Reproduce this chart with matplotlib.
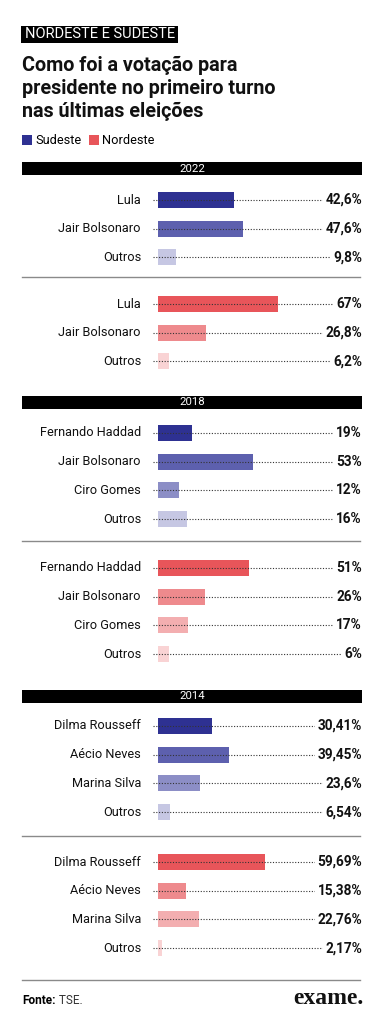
import matplotlib
matplotlib.use("Agg")
import matplotlib.pyplot as plt
from matplotlib.patches import Rectangle

# ---------------- data ----------------
years = ["2022", "2018", "2014"]

cand_2022 = ["Lula", "Jair Bolsonaro", "Outros"]
sudeste_2022 = [42.6, 47.6, 9.8]
nordeste_2022 = [67, 26.8, 6.2]

cand_2018 = ["Fernando Haddad", "Jair Bolsonaro", "Ciro Gomes", "Outros"]
sudeste_2018 = [19, 53, 12, 16]
nordeste_2018 = [51, 26, 17, 6]

cand_2014 = ["Dilma Rousseff", "Aécio Neves", "Marina Silva", "Outros"]
sudeste_2014 = [30.41, 39.45, 23.6, 6.54]
nordeste_2014 = [59.69, 15.38, 22.76, 2.17]

regions = ["Sudeste", "Nordeste"]

# ---------------- style ----------------
W, H = 385, 1023
FONT = ["Roboto", "DejaVu Sans"]
plt.rcParams["font.family"] = FONT
BLUES = ["#2E3192", "#5D60AE", "#8C8EC6", "#C6C7E3"]
REDS = ["#E8555A", "#EE8A8D", "#F3AEB0", "#F9D3D4"]
SC = 1.79          # pixels per percentage point
X0 = 158           # pixel x of 0 %
XL, XR = 153, 362  # dotted line span / value right edge
STEP = 28.7

fig = plt.figure(figsize=(W / 100, H / 100), dpi=100)
bg = fig.add_axes([0, 0, 1, 1])
bg.set_xlim(0, W)
bg.set_ylim(H, 0)
bg.axis("off")


def fmt(v):
    return f"{v:g}".replace(".", ",") + "%"


def shades(base, n):
    return [base[i] for i in ([0, 1, 3] if n == 3 else range(n))]


def panel(y_first, names, values, base):
    n = len(names)
    top = y_first - STEP / 2
    ax = fig.add_axes([XL / W, 1 - (top + n * STEP) / H, (XR - XL) / W, n * STEP / H])
    xmin, xmax = (XL - X0) / SC, (XR - X0) / SC
    ax.set_xlim(xmin, xmax)
    ax.set_ylim(n - 0.5, -0.5)
    ax.axis("off")
    ys = list(range(n))
    ax.barh(ys, values, height=16 / STEP, color=shades(base, n), zorder=2)
    ax.hlines(ys, xmin, xmax - 1, color="#333333", lw=0.8,
              linestyles=(0, (1, 1.5)), zorder=3)
    for i, (nm, v) in enumerate(zip(names, values)):
        ax.text(xmax, i, fmt(v), ha="right", va="center", fontsize=9.8,
                fontweight="bold", color="#111111", zorder=5,
                bbox=dict(fc="white", ec="none", pad=1.6))
        ax.text((141 - X0) / SC, i, nm, ha="right", va="center",
                fontsize=9.2, color="#111111", clip_on=False)


def header(y, text):
    bg.add_patch(Rectangle((22, y - 6.5), 340, 13, color="black", lw=0))
    bg.text(192, y + 0.3, text, ha="center", va="center", color="white",
            fontsize=8.2)


def sep(y):
    bg.plot([22, 360], [y, y], color="#8a8a8a", lw=1)


# tag
bg.add_patch(Rectangle((21, 26), 157, 16.5, color="black", lw=0))
bg.text(25, 34.5, "NORDESTE E SUDESTE", ha="left", va="center",
        color="white", fontsize=10.5)

# title
for k, line in enumerate(["Como foi a votação para",
                          "presidente no primeiro turno",
                          "nas últimas eleições"]):
    bg.text(22, 71 + k * 23, line, ha="left", va="baseline", fontsize=14.2,
            fontweight="bold", color="#111111")

# legend
bg.add_patch(Rectangle((22, 135), 10, 10, color=BLUES[0], lw=0))
bg.text(35, 140.5, regions[0], ha="left", va="center", fontsize=9.2)
bg.add_patch(Rectangle((89, 135), 10, 10, color=REDS[0], lw=0))
bg.text(102, 140.5, regions[1], ha="left", va="center", fontsize=9.2)

# sections
header(168.5, years[0])
panel(200, cand_2022, sudeste_2022, BLUES)
sep(277)
panel(304, cand_2022, nordeste_2022, REDS)

header(402, years[1])
panel(433, cand_2018, sudeste_2018, BLUES)
sep(541)
panel(568, cand_2018, nordeste_2018, REDS)

header(696, years[2])
panel(726, cand_2014, sudeste_2014, BLUES)
sep(836)
panel(862, cand_2014, nordeste_2014, REDS)

sep(980)

# footer
t = bg.text(22, 1000, "Fonte:", ha="left", va="center", fontsize=8.5,
            fontweight="bold")
bg.annotate(" TSE.", xycoords=t, xy=(1, 0.5), va="center", ha="left",
            fontsize=8.5, color="#333333")
bg.text(363, 998, "exame.", ha="right", va="center", fontsize=17,
        fontweight="bold", family=["Liberation Serif", "DejaVu Serif"],
        color="#111111")

fig.savefig("out.png", dpi=100, facecolor="white")
